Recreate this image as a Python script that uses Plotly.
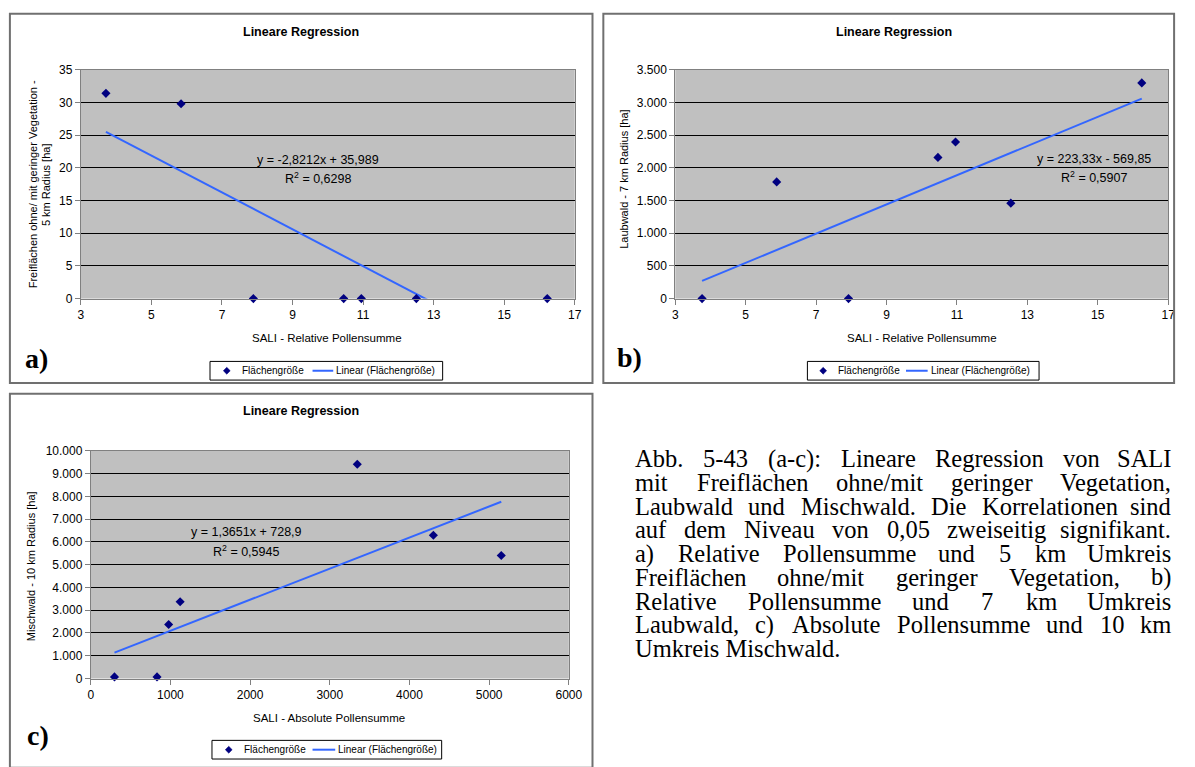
import plotly.graph_objects as go

W, H = 1195, 767

# ---------------- data ----------------
# a) Relative Pollensumme vs Freiflächen ohne/mit geringer Vegetation (5 km)
a_x = [3.71, 5.84, 7.89, 10.45, 10.95, 12.51, 16.22]
a_y = [31.4, 29.8, 0, 0, 0, 0, 0]
a_slope, a_intercept, a_r2 = -2.8212, 35.989, "0,6298"

# b) Relative Pollensumme vs Laubwald (7 km)
b_x = [3.76, 5.88, 7.92, 10.46, 10.96, 12.53, 16.25]
b_y = [0, 1785, 0, 2160, 2395, 1460, 3300]
b_slope, b_intercept, b_r2 = 223.33, -569.85, "0,5907"

# c) Absolute Pollensumme vs Mischwald (10 km)
c_x = [298, 832, 978, 1122, 3345, 4300, 5152]
c_y = [70, 70, 2370, 3370, 9410, 6290, 5400]
c_slope, c_intercept, c_r2 = 1.3651, 728.9, "0,5945"

# tick values / labels
a_xtick_vals = [3, 5, 7, 9, 11, 13, 15, 17]
a_xtick_text = ["3", "5", "7", "9", "11", "13", "15", "17"]
a_ytick_vals = [0, 5, 10, 15, 20, 25, 30, 35]
a_ytick_text = ["0", "5", "10", "15", "20", "25", "30", "35"]
b_ytick_vals = [0, 500, 1000, 1500, 2000, 2500, 3000, 3500]
b_ytick_text = ["0", "500", "1.000", "1.500", "2.000", "2.500", "3.000", "3.500"]
c_xtick_vals = [0, 1000, 2000, 3000, 4000, 5000, 6000]
c_xtick_text = ["0", "1000", "2000", "3000", "4000", "5000", "6000"]
c_ytick_vals = [0, 1000, 2000, 3000, 4000, 5000, 6000, 7000, 8000, 9000, 10000]
c_ytick_text = ["0", "1.000", "2.000", "3.000", "4.000", "5.000", "6.000",
                "7.000", "8.000", "9.000", "10.000"]

chart_title = "Lineare Regression"
a_xtitle = "SALI - Relative Pollensumme"
b_xtitle = "SALI - Relative Pollensumme"
c_xtitle = "SALI - Absolute Pollensumme"
a_ytitle = ["Freiflächen ohne/ mit geringer Vegetation -", "5 km Radius [ha]"]
b_ytitle = "Laubwald - 7 km Radius [ha]"
c_ytitle = "Mischwald - 10 km Radius [ha]"
legend_labels = ["Flächengröße", "Linear (Flächengröße)"]
panel_labels = ["a)", "b)", "c)"]

caption_lines = [
    "Abb. 5-43 (a-c): Lineare Regression von SALI",
    "mit Freiflächen ohne/mit geringer Vegetation,",
    "Laubwald und Mischwald. Die Korrelationen sind",
    "auf dem Niveau von 0,05 zweiseitig signifikant.",
    "a) Relative Pollensumme und 5 km Umkreis",
    "Freiflächen ohne/mit geringer Vegetation, b)",
    "Relative Pollensumme und 7 km Umkreis",
    "Laubwald, c) Absolute Pollensumme und 10 km",
    "Umkreis Mischwald.",
]

# ---------------- helpers (screen px -> paper fraction) ----------------
def px(x):
    return x / W

def py(y):
    return 1 - y / H

SANS = "Liberation Sans, Arial, sans-serif"
SERIF = "Liberation Serif, Times New Roman, serif"
MARKER_COLOR = "#000080"
LINE_COLOR = "#3366FF"

def fmt(v):
    return ("%.5g" % v).replace(".", ",")

def equation(m, b):
    sign = "+" if b >= 0 else "-"
    return f"y = {fmt(m)}x {sign} {fmt(abs(b))}"

fig = go.Figure()

panels = [
    dict(x=a_x, y=a_y, m=a_slope, b=a_intercept, r2=a_r2, xa="x", ya="y"),
    dict(x=b_x, y=b_y, m=b_slope, b=b_intercept, r2=b_r2, xa="x2", ya="y2"),
    dict(x=c_x, y=c_y, m=c_slope, b=c_intercept, r2=c_r2, xa="x3", ya="y3"),
]

for p in panels:
    xs = [min(p["x"]), max(p["x"])]
    ys = [p["m"] * v + p["b"] for v in xs]
    fig.add_trace(go.Scatter(x=xs, y=ys, mode="lines", xaxis=p["xa"], yaxis=p["ya"],
                             line=dict(color=LINE_COLOR, width=2), showlegend=False,
                             hoverinfo="skip"))
    fig.add_trace(go.Scatter(x=p["x"], y=p["y"], mode="markers", xaxis=p["xa"], yaxis=p["ya"],
                             marker=dict(symbol="diamond", size=7, color=MARKER_COLOR),
                             cliponaxis=False, showlegend=False))

def axis(domain, rng, tv, tt, grid):
    return dict(domain=domain, range=rng, tickvals=tv, ticktext=tt, showgrid=grid,
                gridcolor="black", gridwidth=1, zeroline=False, showline=True,
                linecolor="#808080", linewidth=1, mirror=True, ticks="outside",
                ticklen=5, tickcolor="#808080",
                tickfont=dict(family=SANS, size=12, color="black"), fixedrange=True)

top_y = [py(297), py(64)]
fig.update_layout(
    xaxis=axis([px(79), px(580)], [3, 17], a_xtick_vals, a_xtick_text, False),
    yaxis=axis(top_y, [0, 35], a_ytick_vals, a_ytick_text, True),
    xaxis2=axis([px(682), px(1182)], [3, 17], a_xtick_vals, a_xtick_text, False),
    yaxis2=axis(top_y, [0, 3500], b_ytick_vals, b_ytick_text, True),
    xaxis3=axis([px(89), px(574)], [0, 6000], c_xtick_vals, c_xtick_text, False),
    yaxis3=axis([py(684), py(452)], [0, 10000], c_ytick_vals, c_ytick_text, True),
)
fig.update_layout(xaxis2_anchor="y2", yaxis2_anchor="x2", xaxis3_anchor="y3", yaxis3_anchor="x3")

ann = []
shapes = []

def text(x, y, t, size, family=SANS, bold=False, anchor="center", angle=0, color="black"):
    ann.append(dict(x=px(x), y=py(y), xref="paper", yref="paper",
                    text=(f"<b>{t}</b>" if bold else t),
                    showarrow=False, xanchor=anchor, yanchor="middle", textangle=angle,
                    borderpad=0, font=dict(family=family, size=size, color=color)))

# panel frames
for (x0, y0, x1, y1) in [(7, 7, 598, 383), (609, 7, 1188, 383), (7, 394, 598, 775)]:
    shapes.append(dict(type="rect", xref="paper", yref="paper", x0=px(x0), x1=px(x1),
                       y0=py(y1), y1=py(y0), line=dict(color="#707070", width=2)))

# titles
text(302, 25, chart_title, 12.5, bold=True)
text(904, 25, chart_title, 12.5, bold=True)
text(302, 412, chart_title, 12.5, bold=True)

# x axis titles
text(329, 337, a_xtitle, 11.5)
text(932, 337, b_xtitle, 11.5)
text(331, 724, c_xtitle, 11.5)

# y axis titles
text(30, 181, a_ytitle[0], 11, angle=-90)
text(43, 181, a_ytitle[1], 11, angle=-90)
text(630, 176, b_ytitle, 11, angle=-90)
text(28, 570, c_ytitle, 11, angle=-90)

# equations
eq_pos = [(320, 156, 174), (1107, 155, 173), (247, 535, 554)]
for p, (ex, ey1, ey2) in zip(panels, eq_pos):
    text(ex, ey1, equation(p["m"], p["b"]), 12.5)
    text(ex, ey2, f"R<sup>2</sup> = {p['r2']}", 12.5)

# panel letters
text(34, 358, panel_labels[0], 28, family=SERIF, bold=True)
text(636, 357, panel_labels[1], 28, family=SERIF, bold=True)
text(35, 742, panel_labels[2], 28, family=SERIF, bold=True)

# legends
legends = [
    dict(box=(210, 361, 446, 380), dia=227, t1=241, l=(314, 335), t2=337),
    dict(box=(816, 361, 1051, 380), dia=832, t1=846, l=(916, 938), t2=940),
    dict(box=(212, 747, 445, 766), dia=229, t1=243, l=(314, 337), t2=339),
]
for lg in legends:
    x0, y0, x1, y1 = lg["box"]
    yc = (y0 + y1) / 2
    shapes.append(dict(type="rect", xref="paper", yref="paper", x0=px(x0), x1=px(x1),
                       y0=py(y1), y1=py(y0), line=dict(color="black", width=1),
                       fillcolor="white"))
    shapes.append(dict(type="line", xref="paper", yref="paper", x0=px(lg["l"][0]),
                       x1=px(lg["l"][1]), y0=py(yc), y1=py(yc),
                       line=dict(color=LINE_COLOR, width=2)))
    d = 3.5
    cx = lg["dia"]
    path = (f"M {px(cx)},{py(yc - d)} L {px(cx + d)},{py(yc)} "
            f"L {px(cx)},{py(yc + d)} L {px(cx - d)},{py(yc)} Z")
    shapes.append(dict(type="path", xref="paper", yref="paper", path=path,
                       fillcolor=MARKER_COLOR, line=dict(color=MARKER_COLOR, width=0.5)))
    text(lg["t1"], yc, legend_labels[0], 10, anchor="left")
    text(lg["t2"], yc, legend_labels[1], 10, anchor="left")

# caption (justified, word by word)
TW = {' ': 250, '(': 333, ')': 333, ',': 250, '-': 333, '.': 250, '/': 278, ':': 278,
      'A': 722, 'B': 667, 'C': 667, 'D': 722, 'E': 611, 'F': 556, 'G': 722, 'H': 722, 'I': 333,
      'J': 389, 'K': 722, 'L': 611, 'M': 889, 'N': 722, 'O': 722, 'P': 556, 'Q': 722, 'R': 667,
      'S': 556, 'T': 611, 'U': 722, 'V': 722, 'W': 944, 'X': 722, 'Y': 722, 'Z': 611,
      'a': 444, 'b': 500, 'c': 444, 'd': 500, 'e': 444, 'f': 333, 'g': 500, 'h': 500, 'i': 278,
      'j': 278, 'k': 500, 'l': 278, 'm': 778, 'n': 500, 'o': 500, 'p': 500, 'q': 500, 'r': 333,
      's': 389, 't': 278, 'u': 500, 'v': 500, 'w': 722, 'x': 500, 'y': 500, 'z': 444, 'ä': 444,
      'ö': 500, 'ü': 500, 'ß': 500}
CAP_SIZE = 24.5
cx0, cx1 = 640, 1186
cy0, cdy = 460, 24.2

def wwidth(w):
    return sum(TW.get(ch, 500) for ch in w) * CAP_SIZE / 1000

for i, line in enumerate(caption_lines):
    yy = cy0 + i * cdy
    words = line.split(" ")
    if i == len(caption_lines) - 1 or len(words) == 1:
        text(cx0, yy, line, CAP_SIZE, family=SERIF, anchor="left")
        continue
    widths = [wwidth(w) for w in words]
    gap = (cx1 - cx0 - sum(widths)) / (len(words) - 1)
    xx = cx0
    for j, (w, ww) in enumerate(zip(words, widths)):
        if j == len(words) - 1:
            text(cx1, yy, w, CAP_SIZE, family=SERIF, anchor="right")
        else:
            text(xx, yy, w, CAP_SIZE, family=SERIF, anchor="left")
        xx += ww + gap

fig.update_layout(width=W, height=H, margin=dict(l=0, r=0, t=0, b=0),
                  paper_bgcolor="white", plot_bgcolor="#C0C0C0",
                  annotations=ann, shapes=shapes, showlegend=False)

fig.write_html("out.html", config={"displayModeBar": False},
               post_script="document.body.style.margin='0';document.body.style.overflow='hidden';")
